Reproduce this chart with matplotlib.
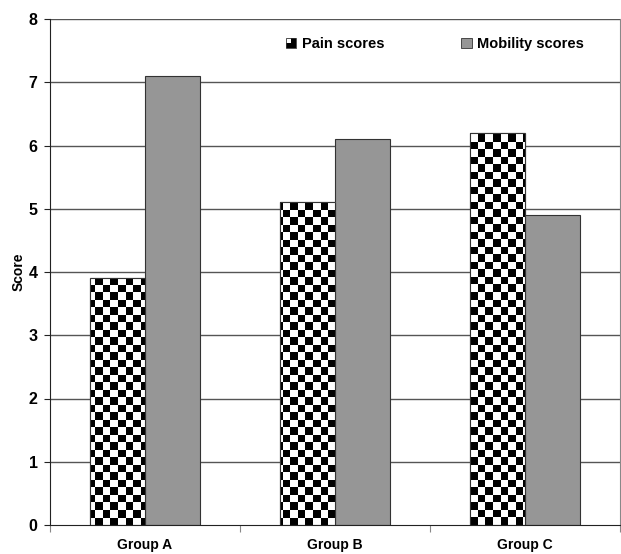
import numpy as np
import matplotlib
matplotlib.use("Agg")
import matplotlib.pyplot as plt
from matplotlib.patches import Rectangle, Patch
from matplotlib.legend_handler import HandlerBase

plt.rcParams['font.family'] = ['Liberation Sans', 'DejaVu Sans']
plt.rcParams['font.weight'] = 'bold'

groups = ["Group A", "Group B", "Group C"]
pain_scores = [3.9, 5.1, 6.2]
mobility_scores = [7.1, 6.1, 4.9]
y_ticks = [0, 1, 2, 3, 4, 5, 6, 7, 8]

fig = plt.figure(figsize=(6.21, 5.54), dpi=100)
ax = fig.add_axes([50 / 621, 29 / 554, 570 / 621, 506 / 554])

x = np.arange(len(groups))
w = 0.29
ax.set_xlim(-0.5, len(groups) - 0.5)
ax.set_ylim(0, 8)

# horizontal gridlines
for yv in y_ticks[1:]:
    ax.axhline(yv, color="#555555", lw=1.0, zorder=1)

pain_bars = ax.bar(x - w / 2, pain_scores, width=w, facecolor="white",
                   edgecolor="#333333", lw=0.8, zorder=2)
mob_bars = ax.bar(x + w / 2, mobility_scores, width=w, facecolor="#969696",
                  edgecolor="#333333", lw=0.8, zorder=2)

# checkerboard texture clipped to the pain bars (square size ~7.5 px)
sq = 7.5
nx = int(np.ceil(570 / sq)) + 1
ny = int(np.ceil(506 / sq)) + 1
checker = (np.indices((ny, nx)).sum(axis=0) % 2).astype(float)
x_ext = (-0.5, -0.5 + nx * sq * 3 / 570)
y_ext = (0, ny * sq * 8 / 506)
for bar in pain_bars:
    im = ax.imshow(checker, cmap="gray", vmin=0, vmax=1, interpolation="nearest",
                   extent=(x_ext[0], x_ext[1], y_ext[0], y_ext[1]),
                   origin="lower", aspect="auto", zorder=2.5)
    im.set_clip_path(bar)
    outline = Rectangle(bar.get_xy(), bar.get_width(), bar.get_height(),
                        facecolor="none", edgecolor="#333333", lw=0.8, zorder=3)
    ax.add_patch(outline)

ax.set_xlim(-0.5, len(groups) - 0.5)
ax.set_ylim(0, 8)

# axes styling
ax.spines["top"].set_visible(False)
ax.spines["right"].set_color("#888888")
ax.spines["left"].set_color("#222222")
ax.spines["bottom"].set_color("#222222")
ax.set_yticks(y_ticks)
ax.set_yticklabels([str(v) for v in y_ticks], fontsize=11.5, fontweight="bold")
ax.tick_params(axis="y", length=4, width=0.8, color="#222222", pad=5)
ax.set_xticks(x)
ax.set_xticklabels(groups, fontsize=10, fontweight="bold")
ax.tick_params(axis="x", which="major", length=0, pad=9)
ax.set_xticks(np.arange(-0.5, len(groups)), minor=True)
ax.tick_params(axis="x", which="minor", length=5, width=0.8, color="#888888")
ax.set_ylabel("Score", fontsize=10, fontweight="bold", labelpad=4)
ax.yaxis.set_label_coords(-24 / 570, 0.5)


class CheckerHandler(HandlerBase):
    def create_artists(self, legend, orig_handle, xdescent, ydescent,
                       width, height, fontsize, trans):
        s = min(width, height)
        x0 = -xdescent + (width - s) / 2
        y0 = -ydescent + (height - s) / 2
        h = s / 2
        arts = []
        for i in range(2):
            for j in range(2):
                c = "black" if (i + j) % 2 == 0 else "white"
                if i == 1 and j == 0:
                    c = "black"
                arts.append(Rectangle((x0 + i * h, y0 + j * h), h, h,
                                      facecolor=c, edgecolor="none", transform=trans))
        arts.append(Rectangle((x0, y0), s, s, facecolor="none",
                              edgecolor="#333333", lw=0.6, transform=trans))
        return arts


class SquareHandler(HandlerBase):
    def create_artists(self, legend, orig_handle, xdescent, ydescent,
                       width, height, fontsize, trans):
        s = min(width, height)
        x0 = -xdescent + (width - s) / 2
        y0 = -ydescent + (height - s) / 2
        return [Rectangle((x0, y0), s, s, facecolor="#969696",
                          edgecolor="#333333", lw=0.6, transform=trans)]


h_pain = Patch(label="Pain scores")
h_mob = Patch(label="Mobility scores")
fig.legend(handles=[h_pain, h_mob], labels=["Pain scores", "Mobility scores"],
           handler_map={h_pain: CheckerHandler(), h_mob: SquareHandler()},
           loc="center", bbox_to_anchor=(435 / 621, 1 - 44 / 554), ncol=2,
           frameon=False, prop={"weight": "bold", "size": 10.5},
           handlelength=0.75, handleheight=0.75, handletextpad=0.4,
           columnspacing=5.2)

fig.savefig("out.png", dpi=100)
